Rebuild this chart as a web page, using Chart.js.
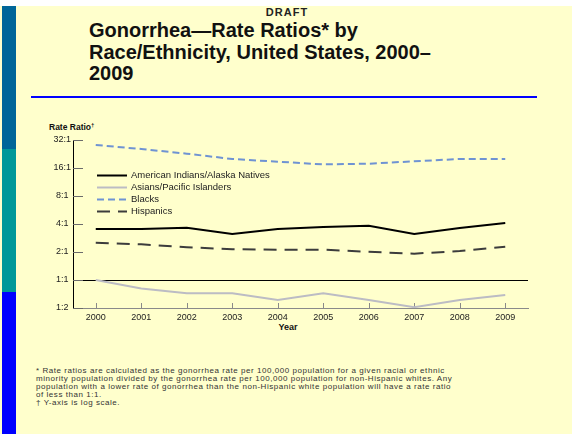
<!DOCTYPE html>
<html lang="en">
<head>
<meta charset="UTF-8" />
<title>Gonorrhea Rate Ratios by Race/Ethnicity, 2000–2009</title>
<script src="https://cdn.jsdelivr.net/npm/chart.js"></script>
<style>
    html, body { margin: 0; padding: 0; }
    body {
        width: 572px;
        height: 434px;
        position: relative;
        overflow: hidden;
        background: #fff;
        font-family: 'Liberation Sans', Arial, sans-serif;
        color: #222;
    }
    .page { position: absolute; left: 0; top: 6px; width: 572px; height: 428px; background: #ffffcc; }
    .band { position: absolute; left: 2px; width: 14px; }
    .band.b1 { top: 6px; height: 143px; background: #006699; }
    .band.b2 { top: 149px; height: 143px; background: #009999; }
    .band.b3 { top: 292px; height: 142px; background: #0000ff; }
    .draft {
        position: absolute; left: 245px; width: 84px; top: 7px;
        text-align: center; font-weight: bold; font-size: 11px; line-height: 11px;
        letter-spacing: 1px; color: #222;
    }
    .title {
        position: absolute; left: 89px; top: 20px;
        font-weight: bold; font-size: 20px; line-height: 21.5px; color: #111;
    }
    .rule { position: absolute; left: 31px; top: 96px; width: 506px; height: 2px; background: #0000ff; }
    .ylab {
        position: absolute; left: 49px; top: 122px;
        font-weight: bold; font-size: 8.5px; line-height: 10px; color: #111;
    }
    .ylab sup { font-size: 6px; vertical-align: 3px; line-height: 0; }
    .xlab {
        position: absolute; left: 268px; width: 40px; top: 322px;
        text-align: center; font-weight: bold; font-size: 9px; line-height: 10px; color: #111;
    }
    .note {
        position: absolute; left: 36px; top: 367px;
        font-size: 8px; line-height: 8px; letter-spacing: 0.55px; color: #333;
    }
    #chart { position: absolute; left: 0; top: 0; }
</style>
</head>
<body>
<div class="page"></div>
<div class="band b1"></div>
<div class="band b2"></div>
<div class="band b3"></div>
<div class="draft">DRAFT</div>
<div class="title">Gonorrhea—Rate Ratios* by<br>Race/Ethnicity, United States, 2000–<br>2009</div>
<div class="rule"></div>
<div class="ylab">Rate Ratio<sup>†</sup></div>
<div class="xlab">Year</div>
<div class="note">
    * Rate ratios are calculated as the gonorrhea rate per 100,000 population for a given racial or ethnic<br>
    minority population divided by the gonorrhea rate per 100,000 population for non-Hispanic whites. Any<br>
    population with a lower rate of gonorrhea than the non-Hispanic white population will have a rate ratio<br>
    of less than 1:1.<br>
    † Y-axis is log scale.
</div>

<canvas id="chart" width="572" height="434"></canvas>

<script>
    // rate ratios vs. non-Hispanic whites
    const years = ['2000', '2001', '2002', '2003', '2004', '2005', '2006', '2007', '2008', '2009'];
    const aianRatios = [3.54, 3.54, 3.65, 3.12, 3.54, 3.71, 3.83, 3.12, 3.62, 4.1];
    const asianRatios = [1.0, 0.81, 0.72, 0.72, 0.61, 0.72, 0.61, 0.51, 0.61, 0.69];
    const blackRatios = [28.3, 25.6, 22.8, 20.0, 18.7, 17.5, 17.8, 18.9, 20.0, 20.0];
    const hispanicRatios = [2.52, 2.42, 2.25, 2.14, 2.12, 2.12, 2.01, 1.92, 2.05, 2.28];

    const seriesNames = ['American Indians/Alaska Natives', 'Asians/Pacific Islanders', 'Blacks', 'Hispanics'];

    const yTickValues = [0.5, 1, 2, 4, 8, 16, 32];
    const yTickLabels = ['1:2', '1:1', '2:1', '4:1', '8:1', '16:1', '32:1'];

    const fontFamily = "'Liberation Sans', Arial, sans-serif";

    // short tick marks pointing into the plot
    const innerTicks = {
        id: 'innerTicks',
        beforeDatasetsDraw(chart) {
            const { ctx, chartArea, scales } = chart;
            ctx.save();
            ctx.lineWidth = 1;
            ctx.strokeStyle = '#6b6b6b';
            yTickValues.forEach(v => {
                const y = Math.round(scales.y.getPixelForValue(v)) + 0.5;
                ctx.beginPath();
                ctx.moveTo(chartArea.left, y);
                ctx.lineTo(chartArea.left + 10, y);
                ctx.stroke();
            });
            ctx.strokeStyle = '#8a8a8a';
            years.forEach((yr, i) => {
                const x = Math.round(scales.x.getPixelForValue(i)) + 0.5;
                ctx.beginPath();
                ctx.moveTo(x, chartArea.bottom);
                ctx.lineTo(x, chartArea.bottom - 5);
                ctx.stroke();
            });
            ctx.restore();
        }
    };

    // legend sits inside the plot, upper left
    const insideLegend = {
        id: 'insideLegend',
        afterDraw(chart) {
            const ctx = chart.ctx;
            ctx.save();
            ctx.font = '9.5px ' + fontFamily;
            ctx.fillStyle = '#222';
            ctx.textBaseline = 'middle';
            chart.data.datasets.forEach((ds, i) => {
                const y = Math.round(174.5 + i * 12.3) + 0.5;
                ctx.beginPath();
                ctx.setLineDash(ds.borderDash || []);
                ctx.strokeStyle = ds.borderColor;
                ctx.lineWidth = 2;
                ctx.moveTo(97, y);
                ctx.lineTo(127, y);
                ctx.stroke();
                ctx.setLineDash([]);
                ctx.fillText(ds.label, 131, y);
            });
            ctx.restore();
        }
    };

    const ctx = document.getElementById('chart').getContext('2d');
    const chart = new Chart(ctx, {
        type: 'line',
        data: {
            labels: years,
            datasets: [
                { label: seriesNames[0], data: aianRatios, borderColor: '#000000', borderWidth: 2 },
                { label: seriesNames[1], data: asianRatios, borderColor: '#bcbcc4', borderWidth: 2 },
                { label: seriesNames[2], data: blackRatios, borderColor: '#6f93d3', borderWidth: 2, borderDash: [7, 4] },
                { label: seriesNames[3], data: hispanicRatios, borderColor: '#3c3c3c', borderWidth: 2, borderDash: [13, 8] }
            ]
        },
        options: {
            responsive: false,
            animation: false,
            devicePixelRatio: 1,
            layout: { padding: { left: 40, right: 44, top: 140, bottom: 96 } },
            elements: { point: { radius: 0 }, line: { tension: 0, fill: false } },
            plugins: { legend: { display: false }, tooltip: { enabled: false } },
            scales: {
                x: {
                    type: 'category',
                    offset: true,
                    grid: { display: false, drawTicks: false },
                    border: { display: true, color: '#8a8a8a', width: 1 },
                    ticks: { color: '#222', font: { size: 9, family: fontFamily }, padding: 4, maxRotation: 0, autoSkip: false },
                    afterFit(s) { s.height = 30; }
                },
                y: {
                    type: 'logarithmic',
                    min: 0.5,
                    max: 32,
                    afterBuildTicks(s) { s.ticks = yTickValues.map(v => ({ value: v })); },
                    ticks: {
                        callback: (v, i) => yTickLabels[i],
                        crossAlign: 'center',
                        padding: 2,
                        color: '#222',
                        font: { size: 9, family: fontFamily },
                        autoSkip: false
                    },
                    grid: {
                        drawTicks: false,
                        lineWidth: 1,
                        color: c => (c.tick && c.tick.value === 1) ? '#000' : 'rgba(0,0,0,0)'
                    },
                    border: { display: true, color: '#000', width: 1 },
                    afterFit(s) { s.width = 33; }
                }
            }
        },
        plugins: [innerTicks, insideLegend]
    });
</script>
</body>
</html>
